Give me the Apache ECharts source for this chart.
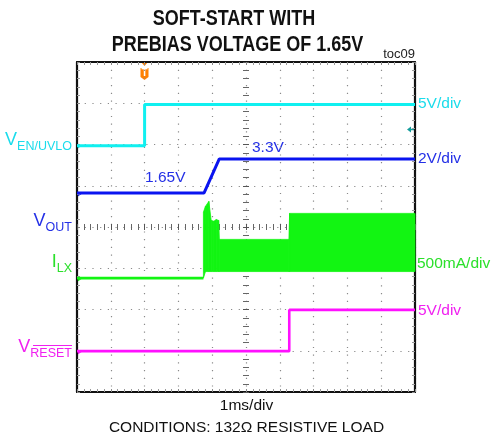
<!DOCTYPE html>
<html><head><meta charset="utf-8">
<script src="https://cdn.jsdelivr.net/npm/echarts@6/dist/echarts.min.js"></script>
<style>html,body{margin:0;padding:0;background:#fff}#c{width:493px;height:440px}</style>
</head><body><div id="c"></div>
<script>
// ---------------- data (time in ms, 1 ms/div) ----------------
const enTime = [0, 2.0, 2.0, 10];
const enVolts = [0, 0, 5, 5];
const voutTime = [0, 3.76, 4.21, 10];
const voutVolts = [1.65, 1.65, 3.3, 3.3];
const ilxTime = [0, 3.74];
const ilxMilliamps = [0, 0];
const ilxBandTime = [3.74, 3.80, 3.90, 3.97, 4.05, 4.12, 4.19, 4.21, 6.27, 6.29, 10];
const ilxBandHigh = [800, 870, 930, 700, 690, 710, 700, 470, 470, 785, 785];
const ilxBandLow = [0, 80, 80, 80, 80, 80, 80, 80, 80, 80, 80];
const resetTime = [0, 6.28, 6.28, 10];
const resetVolts = [0, 0, 5, 5];
const scaleLabels = ['5V/div', '2V/div', '500mA/div', '5V/div'];
const levelLabels = ['1.65V', '3.3V'];

// channel settings: units per division and ground level (in divisions)
const ch = {
  en: {perDiv: 5, ground: 5.97},
  vout: {perDiv: 2, ground: 4.0},
  ilx: {perDiv: 500, ground: 2.76},
  reset: {perDiv: 5, ground: 0.99}
};
const toDiv = (c, v) => c.ground + v / c.perDiv;
const pairs = (c, t, v) => t.map((x, i) => [x, toDiv(c, v[i])]);

const CYAN = '#10F0F0', CYAN_T = '#1ADCEB';
const BLUE = '#0A14F0', BLUE_T = '#2430E6';
const GREEN = '#12F512', GREEN_T = '#2BE02B';
const MAG = '#FF10FF', MAG_T = '#F020F0';
const FONT = '"Liberation Sans", Arial, sans-serif';

const chart = echarts.init(document.getElementById('c'), null, {renderer: 'canvas'});

const dotted = (c) => ({color: c, width: 1.2, type: [1.2, 6.5]});
function frameX(pos) {
  return {type: 'value', min: 0, max: 10, interval: 1, position: pos,
    axisLine: {show: true, onZero: false, lineStyle: {color: '#111', width: 2.2}},
    axisTick: {show: true, inside: true, length: 3, lineStyle: {color: '#888'}},
    minorTick: {show: true, splitNumber: 5, length: 3, lineStyle: {color: '#999'}},
    axisLabel: {show: false},
    splitLine: {show: pos === 'bottom', lineStyle: dotted('#8a8a8a')}};
}
function frameY(pos) {
  return {type: 'value', min: 0, max: 8, interval: 1, position: pos,
    axisLine: {show: true, onZero: false, lineStyle: {color: '#111', width: 2.2}},
    axisTick: {show: true, inside: true, length: 3, lineStyle: {color: '#888'}},
    minorTick: {show: true, splitNumber: 5, length: 3, lineStyle: {color: '#999'}},
    axisLabel: {show: false},
    splitLine: {show: pos === 'left', lineStyle: dotted('#8a8a8a')}};
}
function centerX(inside) {
  return {type: 'value', min: 0, max: 10, interval: 1, position: 'bottom', offset: -165,
    axisLine: {show: false, onZero: false},
    axisTick: {show: true, inside: inside, length: 3, lineStyle: {color: '#555'}},
    minorTick: {show: true, splitNumber: 5, length: 3, lineStyle: {color: '#666'}},
    axisLabel: {show: false}, splitLine: {show: false}};
}
function centerY(inside) {
  return {type: 'value', min: 0, max: 8, interval: 1, position: 'left', offset: -169,
    axisLine: {show: false, onZero: false},
    axisTick: {show: true, inside: inside, length: 3, lineStyle: {color: '#555'}},
    minorTick: {show: true, splitNumber: 5, length: 3, lineStyle: {color: '#666'}},
    axisLabel: {show: false}, splitLine: {show: false}};
}

const bandData = ilxBandTime.map((t, i) => [t, toDiv(ch.ilx, ilxBandLow[i]), toDiv(ch.ilx, ilxBandHigh[i])]);

const lineSeries = (data, color, w) => ({
  type: 'line', data: data, xAxisIndex: 0, yAxisIndex: 0, symbol: 'none',
  lineStyle: {color: color, width: w}, animation: false, z: 5, silent: true
});

function rich(v, s, col) {
  return {
    text: '{v|' + v + '}{s|' + s + '}',
    rich: {
      v: {fontSize: 18, fontFamily: FONT, fill: col, padding: [0, 0, 4, 0], verticalAlign: 'bottom'},
      s: {fontSize: 12.5, fontFamily: FONT, fill: col, verticalAlign: 'bottom'}
    },
    align: 'right', verticalAlign: 'bottom'
  };
}
const txt = (x, y, text, col, size, opts, sy) => Object.assign({
  type: 'text', x: x, y: y, silent: true, scaleY: sy || 1,
  style: Object.assign({text: text, fill: col, fontSize: size, fontFamily: FONT, align: 'left', verticalAlign: 'middle'}, opts || {})
});
const marker = (y, col) => ({type: 'polygon', silent: true, shape: {points: [[77, y - 3], [81.5, y], [77, y + 3]]}, style: {fill: col}});

chart.setOption({
  animation: false,
  backgroundColor: '#fff',
  grid: {left: 77, top: 62, width: 338, height: 330, outerBoundsMode: 'none', containLabel: false},
  xAxis: [frameX('bottom'), frameX('top'), centerX(true), centerX(false)],
  yAxis: [frameY('left'), frameY('right'), centerY(true), centerY(false)],
  series: [
    lineSeries(pairs(ch.en, enTime, enVolts), CYAN, 3),
    lineSeries(pairs(ch.vout, voutTime, voutVolts), BLUE, 3),
    lineSeries(pairs(ch.ilx, ilxTime, ilxMilliamps), GREEN, 2.6),
    lineSeries(pairs(ch.reset, resetTime, resetVolts), MAG, 2.6),
    {
      type: 'custom', xAxisIndex: 0, yAxisIndex: 0, data: bandData, z: 4, silent: true, animation: false,
      renderItem: function (params, api) {
        const i = params.dataIndex;
        if (i >= bandData.length - 1) return null;
        const a = bandData[i], b = bandData[i + 1];
        const pts = [api.coord([a[0], a[1]]), api.coord([b[0], b[1]]), api.coord([b[0], b[2]]), api.coord([a[0], a[2]])];
        return {type: 'polygon', shape: {points: pts}, style: {fill: GREEN, stroke: GREEN, lineWidth: 0.8}};
      }
    }
  ],
  graphic: [
    // title
    txt(234, 19.5, 'SOFT-START WITH', '#111', 18, {fontWeight: 'bold', align: 'center'}, 1.2),
    txt(237.5, 45, 'PREBIAS VOLTAGE OF 1.65V', '#111', 18, {fontWeight: 'bold', align: 'center'}, 1.2),
    txt(415, 54, 'toc09', '#222', 13, {align: 'right'}),
    // right scale labels
    txt(418, 103.5, scaleLabels[0], CYAN_T, 15.5),
    txt(418, 159, scaleLabels[1], BLUE_T, 15.5),
    txt(417, 264, scaleLabels[2], GREEN_T, 15.5),
    txt(418, 311, scaleLabels[3], MAG_T, 15.5),
    // level labels
    txt(145, 178, levelLabels[0], BLUE_T, 15.5),
    txt(252, 148, levelLabels[1], BLUE_T, 15.5),
    // left channel labels
    {type: 'text', x: 72, y: 153.5, silent: true, style: rich('V', 'EN/UVLO', CYAN_T)},
    {type: 'text', x: 72, y: 234, silent: true, style: rich('V', 'OUT', BLUE_T)},
    {type: 'text', x: 72, y: 275, silent: true, style: rich('I', 'LX', GREEN_T)},
    {type: 'text', x: 72, y: 360, silent: true, style: rich('V', 'RESET', MAG_T)},
    {type: 'line', silent: true, shape: {x1: 33, y1: 345.5, x2: 72, y2: 345.5}, style: {stroke: MAG_T, lineWidth: 1.2}},
    // ground markers
    marker(146, CYAN), marker(194, BLUE), marker(279, GREEN), marker(352, MAG),
    // trigger marker
    {type: 'polygon', silent: true, shape: {points: [[141, 62], [148, 62], [144.5, 66]]}, style: {fill: '#FF8000'}},
    {type: 'polygon', silent: true, shape: {points: [[140.5, 68], [148.5, 68], [148.5, 77], [144.5, 80], [140.5, 77]]}, style: {fill: '#FF8000'}},
    txt(144.5, 73, 'T', '#fff', 10, {align: 'center', fontWeight: 'bold'}),
    // right-side reference arrow
    {type: 'polygon', silent: true, shape: {points: [[407, 129.5], [411, 126.5], [411, 132.5]]}, style: {fill: '#149C9C'}},
    {type: 'line', silent: true, shape: {x1: 410, y1: 129.5, x2: 414, y2: 129.5}, style: {stroke: '#149C9C', lineWidth: 1.5}},
    // bottom texts
    txt(246.5, 406, '1ms/div', '#111', 15.5, {align: 'center'}),
    txt(246.5, 427.5, 'CONDITIONS: 132\u03A9 RESISTIVE LOAD', '#111', 15.5, {align: 'center'})
  ]
});
</script>
</body></html>
